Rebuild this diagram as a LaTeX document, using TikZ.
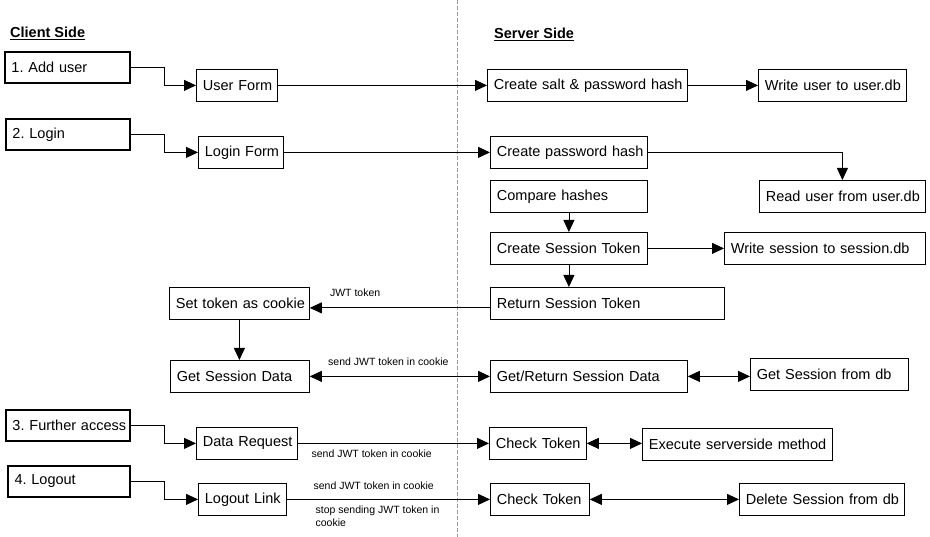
\documentclass[tikz,border=0pt]{standalone}
\usepackage{fontspec}
\setmainfont{Liberation Sans}
\usetikzlibrary{arrows.meta}
\frenchspacing

\begin{document}
\begin{tikzpicture}[x=1pt,y=-1pt,
                    box node/.style={draw,line width=0.8pt,anchor=north west,minimum height=32pt,
                      inner xsep=6.5pt,inner ysep=0pt,text width=#1,
                      font=\fontsize{14.5}{17}\selectfont,
                      execute at begin node={\hbox\bgroup},execute at end node={\egroup}},
                    step node/.style={box node=#1,line width=2pt,minimum height=31pt},
                    head node/.style={anchor=base west,inner sep=0pt,font=\fontsize{14.5}{17}\selectfont\bfseries},
                    note node/.style={inner sep=0pt,align=left,font=\fontsize{10.5}{13}\selectfont},
                    flow/.style={line width=0.8pt,-{Triangle[length=12pt,width=11pt]}},
                    both flow/.style={line width=0.8pt,{Triangle[length=12pt,width=11pt]}-{Triangle[length=12pt,width=11pt]}}
                   ]
   \useasboundingbox (0,0) rectangle (930,537);
   % client / server divider
   \coordinate (divtop) at (457,0);
   \coordinate (divbot) at (457,537);
   \draw[black!40,line width=0.8pt,dash pattern=on 4pt off 2pt] (divtop) -- (divbot);

   \node[head node] (client) at (10,37.5) {\underline{Client Side}};
   \node[head node] (server) at (494,39) {\underline{Server Side}};

   \node[step node=112pt] (add) at (4,51) {1. Add user};
   \node[box node=68pt] (userform) at (196,69) {User Form};
   \node[box node=187pt] (salt) at (487,69) {Create salt \& password hash};
   \node[box node=135pt] (writeuser) at (758,69) {Write user to user.db};
   \node[step node=111pt] (login) at (5,118) {2. Login};
   \node[box node=72pt] (loginform) at (198,136) {Login Form};
   \node[box node=144pt] (pwhash) at (490,136) {Create password hash};
   \node[box node=144pt] (compare) at (490,180) {Compare hashes};
   \node[box node=153pt] (readuser) at (759,180) {Read user from user.db};
   \node[box node=144pt] (sesstoken) at (490,232) {Create Session Token};
   \node[box node=188pt] (writesess) at (724,232) {Write session to session.db};
   \node[box node=127pt] (settoken) at (169,287) {Set token as cookie};
   \node[box node=221pt] (rettoken) at (490,287) {Return Session Token};
   \node[box node=126pt] (getsess) at (170,360) {Get Session Data};
   \node[box node=184pt] (getret) at (490,360) {Get/Return Session Data};
   \node[box node=145pt] (sessdb) at (750,358) {Get Session from db};
   \node[step node=111pt] (further) at (5,409) {3. Further access};
   \node[box node=88pt] (datareq) at (196,427) {Data Request};
   \node[box node=84pt] (check) at (489,427) {Check Token};
   \node[box node=177pt] (execute) at (642,428) {Execute serverside method};
   \node[step node=109pt] (logout) at (7,465) {4. Logout};
   \node[box node=75pt] (logoutlink) at (198,483) {Logout Link};
   \node[box node=86pt] (checkb) at (490,483) {Check Token};
   \node[box node=152pt] (delete) at (739,483) {Delete Session from db};

   % elbows from the steps
   \draw[flow] (add.east) -- ++(33,0) |- (userform.west);
   \draw[flow] (login.east) -- ++(33,0) |- (loginform.west);
   \draw[flow] (further.east) -- ++(33,0) |- (datareq.west);
   \draw[flow] (logout.east) -- ++(33,0) |- (logoutlink.west);
   \draw[flow] (pwhash.east) -| (readuser.north);
   \draw[flow] ([yshift=-4.5pt]rettoken.west) -- node[note node,pos=0.89,anchor=base west,yshift=11pt] {JWT token} ([yshift=-4.5pt]rettoken.west -| settoken.east);

   \path%
     (userform) edge[flow] (salt)
     (salt) edge[flow] (writeuser)
     (loginform) edge[flow] (pwhash)
     (compare) edge[flow] (sesstoken)
     (sesstoken) edge[flow] (writesess)
     (sesstoken.south) edge[flow] (sesstoken.south |- rettoken.north)
     (settoken.south) edge[flow] (settoken.south |- getsess.north)
     (getsess) edge[both flow] node[note node,pos=0.1,anchor=base west,yshift=10.5pt] {send JWT token in cookie} (getret)
     (getret.east) edge[both flow] (getret.east -| sessdb.west)
     (datareq) edge[flow] node[note node,pos=0.07,anchor=base west,yshift=-14.5pt] {send JWT token in cookie} (check)
     (check.east) edge[both flow] (check.east -| execute.west)
     (logoutlink) edge[flow] node[note node,pos=0.13,anchor=base west,yshift=9.5pt] {send JWT token in cookie}
                             node[note node,pos=0.14,anchor=north west,yshift=-6pt] {stop sending JWT token in\\cookie} (checkb)
     (checkb) edge[both flow] (delete);
\end{tikzpicture}
\end{document}
